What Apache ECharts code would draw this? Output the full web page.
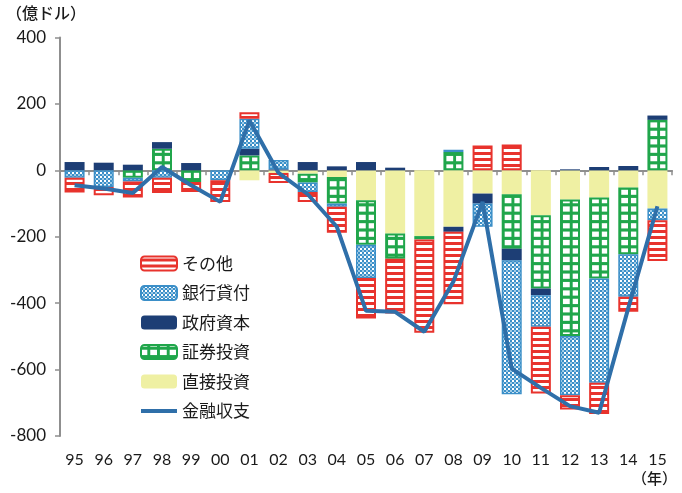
<!DOCTYPE html>
<html>
<head>
<meta charset="utf-8">
<script src="https://cdn.jsdelivr.net/npm/echarts@6/dist/echarts.min.js"></script>
<style>
html,body{margin:0;padding:0;background:#fff;}
#chart{width:682px;height:493px;}
</style>
</head>
<body>
<div id="chart"></div>
<script>
// ---- data (億ドル) ----
const categories = ['95','96','97','98','99','00','01','02','03','04','05','06','07','08','09','10','11','12','13','14','15'];
const directInvestment = [0,0,0,0,0,0,-30,-8,-10,-20,-90,-190,-198,-170,-70,-72,-135,-88,-82,-52,-115];      // 直接投資
const portfolioInvestment = [0,0,-22,65,-35,0,45,0,-27,-80,-134,-76,-10,55,0,-164,-221,-411,-244,-201,152]; // 証券投資
const governmentCapital = [25,23,17,20,22,0,20,3,25,12,25,8,0,-15,-30,-35,-20,3,10,13,13];                 // 政府資本
const bankLoans = [-22,-50,-12,-22,0,-30,90,28,-28,-10,-100,0,0,7,-70,-403,-95,-178,-314,-128,-35];        // 銀行貸付
const others = [-45,-25,-48,-46,-30,-65,20,-30,-30,-78,-122,-165,-281,-218,75,78,-201,-43,-94,-45,-123];   // その他
const financialAccount = [-45,-55,-68,10,-45,-95,150,-8,-72,-170,-423,-426,-486,-335,-95,-597,-655,-710,-730,-415,-108]; // 金融収支
const legendOrder = ['その他','銀行貸付','政府資本','証券投資','直接投資','金融収支'];

function tile(w, h, draw) {
  const c = document.createElement('canvas');
  c.width = w; c.height = h;
  draw(c.getContext('2d'));
  return c;
}
const RED = '#e8332d', BLUE = '#3b8fc8', NAVY = '#1d3e75', GREEN = '#20a64b', YELLOW = '#eff0a3', LINE = '#2f6fa9';

const stripeImg = tile(4, 6, ctx => { ctx.fillStyle = '#fff'; ctx.fillRect(0,0,4,6); ctx.fillStyle = RED; ctx.fillRect(0,0,4,3); });
const checkImg = tile(4, 4, ctx => { ctx.fillStyle = BLUE; ctx.fillRect(0,0,4,4); ctx.fillStyle = '#fff'; ctx.fillRect(0,0,2,2); ctx.fillStyle = '#9fcbe6'; ctx.fillRect(2,2,2,2); });
const gridImg = tile(10, 8, ctx => { ctx.fillStyle = GREEN; ctx.fillRect(0,0,10,8); ctx.fillStyle = '#fff'; ctx.fillRect(3,3,7,5); });

const catW = 612 / categories.length;
const stripePattern = { image: stripeImg, repeat: 'repeat', x: 0, y: 170 };
const checkPattern = { image: checkImg, repeat: 'repeat' };
const gridPattern = { image: gridImg, repeat: 'repeat', x: 60 + (catW - 20) / 2, y: 170 - 8 * 20, scaleX: (catW / 3) / 10, scaleY: 1.05 };

const nz = arr => arr.map(v => v === 0 ? null : v);

function barSeries(name, data, itemStyle, z) {
  return { name, type: 'bar', stack: 'total', barWidth: 20, data: nz(data), itemStyle, z: z || 2, emphasis: { disabled: true } };
}

const chart = echarts.init(document.getElementById('chart'), null, { renderer: 'canvas' });
chart.setOption({
  animation: false,
  backgroundColor: '#fff',
  grid: { left: 60, right: 10, top: 37.5, bottom: 57 },
  legend: {
    data: legendOrder.map(n => n === '金融収支' ? { name: n, icon: 'path://M0,0L36,0L36,4L0,4Z' } : { name: n }),
    orient: 'vertical',
    left: 135, top: 250,
    itemWidth: 36, itemHeight: 14, itemGap: 12.5,
    symbolKeepAspect: true,
    textStyle: { fontFamily: 'Noto Sans CJK JP', fontSize: 17, color: '#1a1a1a', lineHeight: 17 }
  },
  xAxis: [
    { type: 'category', data: categories, position: 'bottom',
      axisLine: { show: false, onZero: false }, axisTick: { show: false },
      axisLabel: { fontFamily: 'Lato', fontSize: 16, color: '#1a1a1a', margin: 16 } },
    { type: 'category', data: categories, position: 'bottom',
      axisLine: { show: true, onZero: true, onZeroAxisIndex: 0, lineStyle: { color: '#8f8f8f', width: 2 } },
      axisTick: { show: true, length: 5, lineStyle: { color: '#8f8f8f', width: 1.5 } },
      axisLabel: { show: false } }
  ],
  yAxis: {
    type: 'value', min: -800, max: 400, interval: 200,
    axisLine: { show: true, lineStyle: { color: '#8f8f8f', width: 2 } },
    axisTick: { show: true, length: 5, lineStyle: { color: '#8f8f8f', width: 1.5 } },
    splitLine: { show: false },
    axisLabel: { fontFamily: 'Lato', fontSize: 17, color: '#1a1a1a', margin: 14 }
  },
  graphic: [
    { type: 'text', left: 6, top: 5, style: { text: '（億ドル）', font: '500 16px "Noto Sans CJK JP"', fill: '#1a1a1a' } },
    { type: 'text', left: 632, top: 471, style: { text: '（年）', font: '500 15px "Noto Sans CJK JP"', fill: '#1a1a1a' } }
  ],
  series: [
    barSeries('直接投資', directInvestment, { color: YELLOW }),
    barSeries('証券投資', portfolioInvestment, { color: gridPattern, borderColor: GREEN, borderWidth: 2 }),
    barSeries('政府資本', governmentCapital, { color: NAVY }),
    barSeries('銀行貸付', bankLoans, { color: checkPattern, borderColor: BLUE, borderWidth: 1.5 }),
    barSeries('その他', others, { color: stripePattern, borderColor: RED, borderWidth: 2 }),
    { name: '金融収支', type: 'line', data: financialAccount, symbol: 'none', z: 5,
      lineStyle: { color: LINE, width: 4 }, itemStyle: { color: LINE }, emphasis: { disabled: true } }
  ]
});
</script>
</body>
</html>
